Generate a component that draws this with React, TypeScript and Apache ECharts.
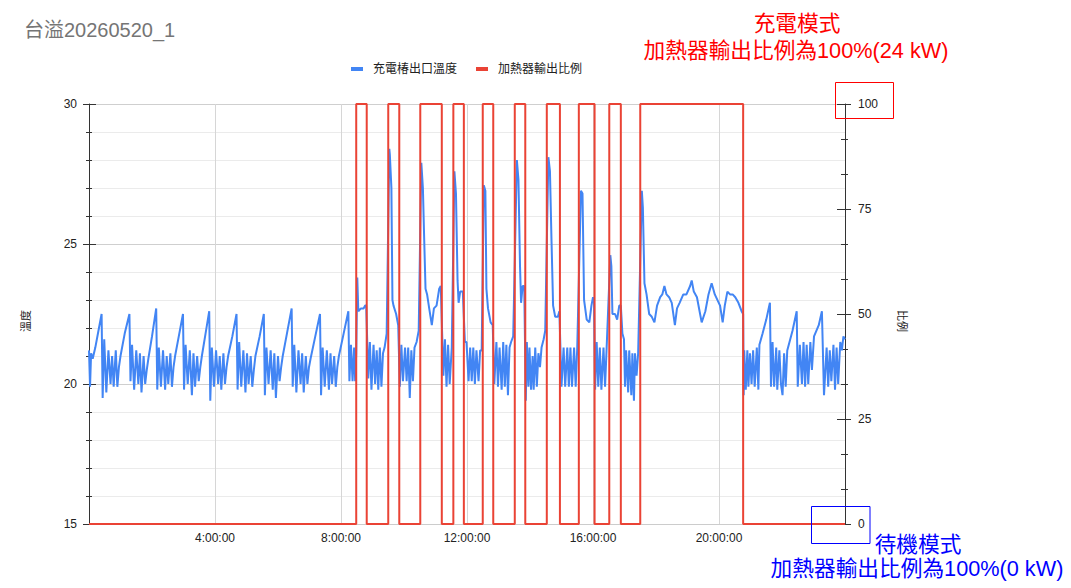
import React, { useEffect, useRef } from 'react';
import * as echarts from 'echarts';

const FONT = "'Liberation Sans', 'Noto Sans CJK TC', sans-serif";

const chartTitle = '台溢20260520_1';
const tempName = '充電椿出口溫度';
const ratioName = '加熱器輸出比例';

// x values are minutes since 00:00
const hourTicks = [240, 480, 720, 960, 1200];

// heater switched to 100% / back to 0%
const heaterOn = [509, 570, 631, 694, 750, 811, 872, 933, 991, 1050];
const heaterOff = [529, 591, 672, 714, 770, 831, 897, 963, 1013, 1246];

// outlet temperature, standby part before the first charge
const tempEarly: [number, number][] = [
  [0, 21.2], [2, 19.9], [4, 21.1], [7, 20.9], [12, 21.3], [18, 21.9], [24, 22.5],
  [26, 19.5], [29, 21.6], [33, 19.7], [37, 21.2], [41, 20.0], [44, 21.0], [47, 19.9], [51, 21.2], [54, 19.9], [57, 20.6], [60, 21.0], [68, 21.8], [77, 22.5],
  [79, 20.1], [82, 21.4], [86, 19.8], [90, 21.2], [94, 20.0], [97, 21.1], [100, 19.7], [104, 21.0], [107, 20.0], [110, 20.5], [113, 20.9], [120, 21.7], [128, 22.7],
  [130, 19.8], [133, 21.3], [137, 19.9], [141, 21.2], [145, 19.8], [148, 21.0], [151, 20.0], [155, 21.1], [158, 19.9], [161, 20.6], [164, 21.0], [171, 21.7], [179, 22.5],
  [181, 19.8], [184, 21.4], [188, 20.0], [192, 21.2], [196, 19.6], [199, 21.1], [202, 19.9], [206, 21.0], [209, 20.1], [212, 20.6], [215, 21.0], [222, 21.8], [229, 22.6],
  [231, 19.4], [234, 21.3], [238, 19.9], [242, 21.2], [246, 20.0], [249, 21.0], [252, 19.8], [256, 21.1], [259, 20.0], [262, 20.6], [265, 21.0], [273, 21.7], [281, 22.5],
  [283, 19.8], [286, 21.5], [290, 19.9], [294, 21.2], [298, 19.7], [301, 21.1], [304, 20.0], [308, 21.0], [311, 19.9], [314, 20.5], [317, 21.0], [325, 21.7], [333, 22.5],
  [335, 19.6], [338, 21.3], [342, 20.0], [346, 21.2], [350, 19.8], [353, 21.1], [356, 19.5], [360, 21.0], [363, 20.1], [366, 20.6], [369, 21.0], [377, 21.8], [386, 22.7],
  [388, 19.9], [391, 21.4], [395, 19.7], [399, 21.2], [403, 20.0], [406, 21.1], [409, 19.7], [413, 21.0], [416, 20.0], [419, 20.6], [422, 20.9], [431, 21.7], [440, 22.5],
  [442, 19.6], [445, 21.3], [449, 19.9], [453, 21.2], [457, 19.8], [460, 21.1], [463, 20.0], [467, 21.0], [470, 19.9], [473, 20.6], [476, 21.0], [485, 21.8], [494, 22.6],
  [496, 20.1], [499, 21.4], [502, 20.1], [505, 21.3], [507, 20.1], [509, 21.1],
];

// charging / standby alternation
const tempCycling: [number, number][] = [
  [511, 23.8], [513, 22.6], [518, 22.7], [523, 22.7], [526, 22.8], [528, 22.8],
  [530, 21.5], [532, 20.2], [535, 21.5], [538, 19.8], [542, 21.4], [545, 20.0], [548, 21.2], [551, 19.8], [554, 21.3], [557, 19.9], [560, 21.1], [563, 21.3], [567, 21.8],
  [572, 28.4], [573, 28.2], [576, 27.0], [578, 23.0], [580, 22.8], [585, 22.5], [589, 22.1],
  [592, 19.9], [595, 21.4], [598, 20.1], [602, 21.3], [605, 20.1], [608, 21.3], [611, 19.5], [614, 21.2], [617, 20.1], [620, 21.3], [624, 21.5], [628, 21.9],
  [633, 27.9], [636, 27.0], [638, 25.5], [641, 23.4], [644, 23.2], [648, 22.7], [653, 22.1], [657, 22.7], [662, 22.8], [667, 23.4], [670, 23.5],
  [675, 20.3], [678, 21.6], [681, 19.9], [684, 21.4], [687, 20.0], [691, 21.3],
  [696, 27.6], [699, 26.8], [702, 23.7], [704, 22.9], [707, 23.3], [712, 23.3],
  [716, 21.5], [719, 21.5], [723, 20.1], [726, 21.3], [729, 20.1], [732, 21.3], [735, 20.0], [738, 21.2], [742, 20.1], [745, 21.2], [748, 21.2],
  [752, 27.1], [755, 26.9], [757, 23.4], [760, 22.7], [765, 22.2], [769, 22.1],
  [772, 20.0], [776, 21.5], [779, 19.9], [782, 21.3], [786, 19.8], [789, 21.5], [792, 19.9], [795, 21.4], [798, 19.6], [801, 21.3], [804, 21.5], [808, 21.7],
  [815, 28.0], [818, 27.3], [821, 24.2], [823, 22.9], [826, 23.5], [829, 23.5],
  [832, 19.4], [834, 21.5], [837, 19.9], [839, 21.3], [842, 19.8], [845, 21.0], [847, 19.8], [850, 21.3], [853, 19.9], [856, 21.1], [859, 20.6], [862, 21.3], [866, 21.6], [869, 21.9],
  [875, 28.1], [878, 27.6], [881, 25.1], [884, 22.8], [888, 22.4], [893, 22.4], [896, 22.6],
  [900, 19.9], [904, 21.3], [907, 19.9], [911, 21.3], [914, 19.9], [917, 21.3], [920, 19.9], [924, 21.3], [927, 19.9], [930, 21.3],
  [937, 26.9], [940, 26.8], [943, 23.0], [948, 22.3], [953, 22.2], [957, 22.8], [960, 23.1], [962, 22.9],
  [964, 19.8], [967, 21.5], [970, 19.9], [973, 21.3], [976, 19.8], [980, 21.3], [983, 19.9], [986, 21.3],
  [993, 24.6], [995, 24.2], [997, 22.5], [1002, 22.5], [1006, 22.3], [1010, 22.8], [1013, 22.8],
  [1016, 21.8], [1019, 21.6], [1021, 19.9], [1023, 21.2], [1027, 19.7], [1029, 21.2], [1033, 19.6], [1035, 21.1], [1038, 19.4], [1040, 21.1], [1043, 20.3], [1046, 21.1],
  [1053, 26.9], [1055, 26.3], [1058, 23.6], [1062, 23.2], [1067, 22.5], [1072, 22.4], [1077, 22.2], [1082, 22.8], [1088, 23.1], [1092, 23.2], [1096, 23.5],
  [1100, 23.2], [1105, 23.1], [1110, 22.9], [1116, 22.1], [1120, 22.7], [1125, 22.9], [1132, 23.2], [1138, 23.2], [1145, 23.5], [1148, 23.7], [1152, 23.3],
  [1158, 23.1], [1163, 22.6], [1167, 22.2], [1174, 22.6], [1180, 23.2], [1186, 23.6], [1192, 23.2], [1202, 22.8], [1207, 22.2], [1211, 22.8], [1216, 23.3],
  [1221, 23.2], [1226, 23.2], [1231, 23.1], [1237, 22.9], [1243, 22.6], [1246, 22.5],
];

// back to standby in the evening
const tempLate: [number, number][] = [
  [1247, 19.6], [1248, 21.2], [1251, 19.8], [1254, 21.2], [1256, 19.9], [1259, 21.1], [1262, 20.0], [1265, 21.2], [1268, 19.9], [1272, 21.3], [1275, 19.8], [1277, 21.4], [1283, 21.8], [1290, 22.3], [1297, 22.9],
  [1299, 19.9], [1302, 21.5], [1305, 19.9], [1309, 21.3], [1311, 19.8], [1315, 21.2], [1318, 20.0], [1321, 19.6], [1324, 21.1], [1327, 19.9], [1330, 21.2], [1340, 21.9], [1348, 22.6],
  [1350, 19.9], [1354, 21.4], [1358, 20.0], [1361, 21.5], [1364, 19.9], [1367, 21.4], [1370, 20.0], [1374, 21.5], [1377, 20.5], [1381, 21.7], [1390, 22.1], [1396, 22.6],
  [1400, 19.6], [1405, 21.3], [1408, 19.9], [1411, 21.2], [1414, 20.1], [1418, 21.4], [1421, 19.8], [1424, 21.3], [1427, 20.0], [1431, 21.5], [1434, 21.2], [1437, 21.7], [1440, 21.6],
];

const App: React.FC = () => {
  const chartRef = useRef<HTMLDivElement>(null);

  useEffect(() => {
    if (!chartRef.current) return;
    const chart = echarts.init(chartRef.current, null, { renderer: 'svg' });

    const ratioData: [number, number][] = [[0, 0]];
    heaterOn.forEach((t, i) => {
      ratioData.push([t, 100], [heaterOff[i], 0]);
    });
    ratioData.push([1440, 0]);

    const tickColor = '#333';
    const labelStyle = { color: '#222', fontSize: 12, fontFamily: FONT };
    const noteStyle = { fontSize: 21.7, align: 'center', verticalAlign: 'middle', fontFamily: FONT };

    const option = {
      animation: false,
      textStyle: { fontFamily: FONT },
      title: {
        text: chartTitle,
        left: 24,
        top: 20,
        padding: 0,
        textStyle: { color: '#757575', fontSize: 20, fontWeight: 'normal', fontFamily: FONT },
      },
      legend: {
        left: 351,
        top: 63,
        padding: 0,
        icon: 'rect',
        itemWidth: 12,
        itemHeight: 4,
        itemGap: 19,
        textStyle: { color: '#222', fontSize: 12, padding: [0, 0, 0, 5], fontFamily: FONT },
        data: [tempName, ratioName],
      },
      grid: { left: 89, right: 226, top: 104, bottom: 64 },
      xAxis: {
        type: 'value',
        min: 0,
        max: 1440,
        interval: 240,
        axisLine: { show: true, lineStyle: { color: '#ccc' } },
        axisTick: { show: false },
        axisLabel: {
          ...labelStyle,
          margin: 8,
          formatter: (v: number) => (hourTicks.includes(v) ? `${v / 60}:00:00` : ''),
        },
        splitLine: { show: true, lineStyle: { color: '#d6d6d6' } },
      },
      yAxis: [
        {
          type: 'value',
          position: 'left',
          min: 15,
          max: 30,
          interval: 5,
          axisLine: { show: true, lineStyle: { color: tickColor } },
          axisTick: { show: true, length: 6, lineStyle: { color: tickColor } },
          minorTick: { show: true, splitNumber: 5, length: 3, lineStyle: { color: tickColor } },
          axisLabel: { ...labelStyle, margin: 12 },
          splitLine: { show: true, lineStyle: { color: '#cfcfcf' } },
          minorSplitLine: { show: true, lineStyle: { color: '#ebebeb' } },
        },
        {
          type: 'value',
          position: 'right',
          min: 0,
          max: 100,
          interval: 25,
          axisLine: { show: true, lineStyle: { color: tickColor } },
          axisTick: { show: true, length: 6, lineStyle: { color: tickColor } },
          minorTick: { show: true, splitNumber: 3, length: 3, lineStyle: { color: tickColor } },
          axisLabel: { ...labelStyle, margin: 13 },
          splitLine: { show: false },
        },
        {
          // inner half of the left ticks
          type: 'value',
          position: 'left',
          min: 15,
          max: 30,
          interval: 5,
          axisLine: { show: false },
          axisTick: { show: true, inside: true, length: 7, lineStyle: { color: tickColor } },
          minorTick: { show: true, splitNumber: 5, length: 3, lineStyle: { color: tickColor } },
          axisLabel: { show: false },
          splitLine: { show: false },
        },
        {
          // inner half of the right ticks
          type: 'value',
          position: 'right',
          min: 0,
          max: 100,
          interval: 25,
          axisLine: { show: false },
          axisTick: { show: true, inside: true, length: 8, lineStyle: { color: tickColor } },
          minorTick: { show: true, splitNumber: 3, length: 4, lineStyle: { color: tickColor } },
          axisLabel: { show: false },
          splitLine: { show: false },
        },
      ],
      series: [
        {
          name: tempName,
          type: 'line',
          yAxisIndex: 0,
          data: [...tempEarly, ...tempCycling, ...tempLate],
          symbol: 'none',
          color: '#4285f4',
          lineStyle: { color: '#4285f4', width: 2 },
        },
        {
          name: ratioName,
          type: 'line',
          yAxisIndex: 1,
          step: 'end',
          data: ratioData,
          symbol: 'none',
          color: '#ea4335',
          lineStyle: { color: '#ea4335', width: 2 },
        },
      ],
      graphic: [
        {
          type: 'text',
          x: 26,
          y: 321,
          rotation: Math.PI / 2,
          style: { text: '溫度', fontSize: 11, fill: '#222', align: 'center', verticalAlign: 'middle', fontFamily: FONT },
        },
        {
          type: 'text',
          x: 902,
          y: 321,
          rotation: -Math.PI / 2,
          style: { text: '比例', fontSize: 11, fill: '#222', align: 'center', verticalAlign: 'middle', fontFamily: FONT },
        },
        {
          type: 'text',
          x: 797,
          y: 23,
          z: 100,
          style: { ...noteStyle, text: '充電模式', fill: '#ff0000' },
        },
        {
          type: 'text',
          x: 796,
          y: 50,
          z: 100,
          style: { ...noteStyle, text: '加熱器輸出比例為100%(24 kW)', fill: '#ff0000' },
        },
        {
          type: 'rect',
          z: 100,
          shape: { x: 835.5, y: 82.5, width: 58, height: 36 },
          style: { fill: 'none', stroke: '#ff0000', lineWidth: 1 },
        },
        {
          type: 'rect',
          z: 100,
          shape: { x: 811.5, y: 506.5, width: 58.5, height: 37 },
          style: { fill: 'none', stroke: '#0000ff', lineWidth: 1 },
        },
        {
          type: 'text',
          x: 918,
          y: 544,
          z: 100,
          style: { ...noteStyle, text: '待機模式', fill: '#0000ff' },
        },
        {
          type: 'text',
          x: 917,
          y: 568,
          z: 100,
          style: { ...noteStyle, text: '加熱器輸出比例為100%(0 kW)', fill: '#0000ff' },
        },
      ],
    };

    chart.setOption(option);

    return () => {
      chart.dispose();
    };
  }, []);

  return (
    <div
      ref={chartRef}
      style={{ position: 'absolute', left: 0, top: 0, width: 1071, height: 588, background: '#fff' }}
    />
  );
};

export default App;
